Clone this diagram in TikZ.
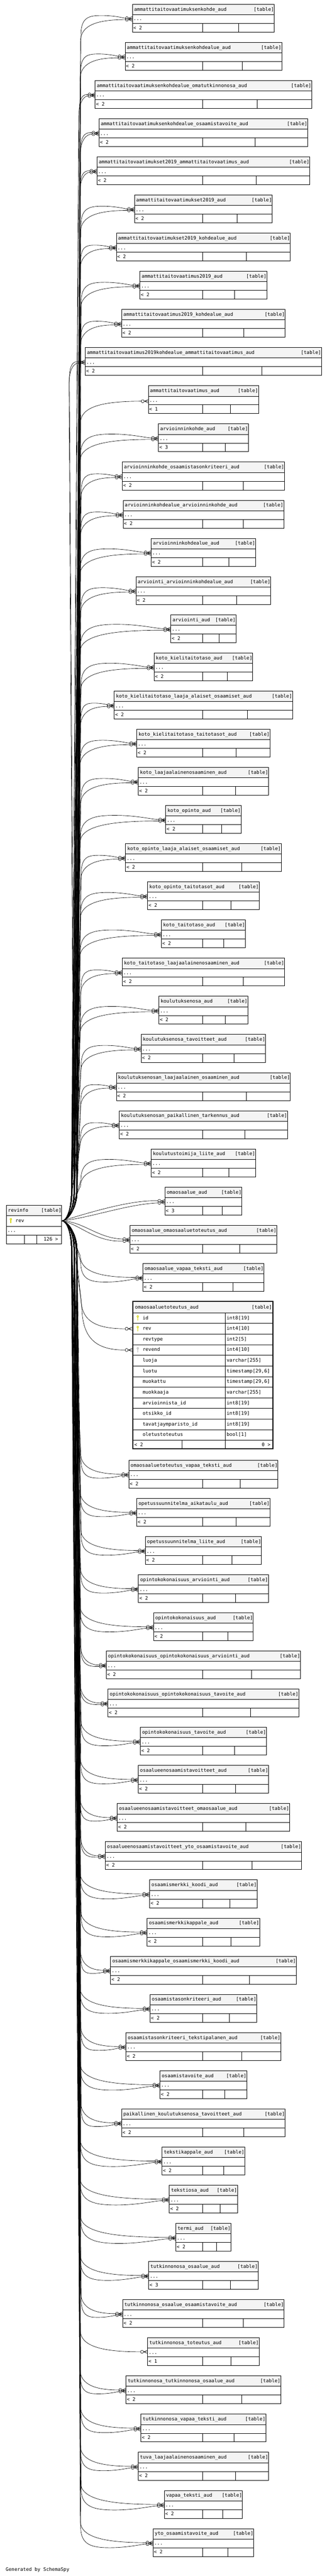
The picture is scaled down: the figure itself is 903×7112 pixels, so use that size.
\documentclass[tikz,border=0pt]{standalone}
\usepackage{fontspec}
\newfontfamily\tabfont{DejaVu Sans Mono}
\usetikzlibrary{arrows.meta}
\definecolor{hdr}{HTML}{F4F4F4}
\definecolor{keyy}{HTML}{D4D400}
\definecolor{keyg}{HTML}{B8B8B8}

\pgfdeclarearrow{
  name = CrowODot,
  setup code = {
    \pgfarrowssettipend{0pt}
    \pgfarrowssetlineend{-19.5pt}
    \pgfarrowssetvisualbackend{-20pt}
    \pgfarrowssetbackend{-20pt}
    \pgfarrowshullpoint{0pt}{5pt}
    \pgfarrowshullpoint{0pt}{-5pt}
    \pgfarrowshullpoint{-20pt}{5pt}
    \pgfarrowshullpoint{-20pt}{-5pt}
  },
  drawing code = {
    \pgfpathcircle{\pgfpoint{-15.3pt}{0pt}}{4.2pt}
    \pgfpathmoveto{\pgfpoint{-11.1pt}{0pt}}
    \pgfpathlineto{\pgfpoint{0pt}{0pt}}
    \pgfpathmoveto{\pgfpoint{-10.5pt}{0pt}}
    \pgfpathlineto{\pgfpoint{0pt}{4.6pt}}
    \pgfpathmoveto{\pgfpoint{-10.5pt}{0pt}}
    \pgfpathlineto{\pgfpoint{0pt}{-4.6pt}}
    \pgfusepathqstroke
  }
}

\tikzset{
  tabline/.style={draw=black, line width=1.1pt},
  edge/.style={draw=black, line width=0.9pt, -{CrowODot}},
  lbl/.style={inner sep=0pt, outer sep=0pt, font=\tabfont\fontsize{13.25}{15}\selectfont},
}

\newcommand{\schemakey}[3]{%
  \fill[#3] (#1,#2+3) circle (3);
  \fill[white] (#1,#2+3) circle (1.2);
  \fill[#3] (#1-0.9,#2+5.5) rectangle (#1+0.9,#2+14);
}

\def\tablist{%
1/ammattitaitovaatimuksenkohde\_aud/365.7/2/2,
2/ammattitaitovaatimuksenkohdealue\_aud/345.5/2/2,
3/ammattitaitovaatimuksenkohdealue\_omatutkinnonosa\_aud/262.6/2/2,
4/ammattitaitovaatimuksenkohdealue\_osaamistavoite\_aud/273.6/2/2,
5/ammattitaitovaatimukset2019\_ammattitaitovaatimus\_aud/267.8/2/2,
6/ammattitaitovaatimukset2019\_aud/371.5/2/2,
7/ammattitaitovaatimukset2019\_kohdealue\_aud/321.4/2/2,
8/ammattitaitovaatimus2019\_aud/386.4/2/2,
9/ammattitaitovaatimus2019\_kohdealue\_aud/335.8/2/2,
10/ammattitaitovaatimus2019kohdealue\_ammattitaitovaatimus\_aud/235.5/2/2,
11/ammattitaitovaatimus\_aud/409.5/1/1,
12/arvioinninkohde\_aud/437.7/2/3,
13/arvioinninkohde\_osaamistasonkriteeri\_aud/337.5/2/2,
14/arvioinninkohdealue\_arvioinninkohde\_aud/339.8/2/2,
15/arvioinninkohdealue\_aud/417.5/2/2,
16/arviointi\_arvioinninkohdealue\_aud/375.5/2/2,
17/arviointi\_aud/471.7/2/2,
18/koto\_kielitaitotaso\_aud/425.6/2/2,
19/koto\_kielitaitotaso\_laaja\_alaiset\_osaamiset\_aud/315.6/2/2,
20/koto\_kielitaitotaso\_taitotasot\_aud/377.8/2/2,
21/koto\_laajaalainenosaaminen\_aud/381.8/2/2,
22/koto\_opinto\_aud/457.8/2/2,
23/koto\_opinto\_laaja\_alaiset\_osaamiset\_aud/346.7/2/2,
24/koto\_opinto\_taitotasot\_aud/407.7/2/2,
25/koto\_taitotaso\_aud/445.7/2/2,
26/koto\_taitotaso\_laajaalainenosaaminen\_aud/337.5/2/2,
27/koulutuksenosa\_aud/438.8/2/2,
28/koulutuksenosa\_tavoitteet\_aud/389.9/2/2,
29/koulutuksenosan\_laajaalainen\_osaaminen\_aud/321.4/2/2,
30/koulutuksenosan\_paikallinen\_tarkennus\_aud/329.4/2/2,
31/koulutustoimija\_liite\_aud/417.5/2/2,
32/omaosaalue\_aud/455.5/2/3,
33/omaosaalue\_omaosaaluetoteutus\_aud/358.8/2/2,
34/omaosaalue\_vapaa\_teksti\_aud/394.5/2/2,
36/omaosaaluetoteutus\_vapaa\_teksti\_aud/355.9/2/2,
37/opetussuunnitelma\_aikataulu\_aud/377.8/2/2,
38/opetussuunnitelma\_liite\_aud/401.4/2/2,
39/opintokokonaisuus\_arviointi\_aud/382.4/2/2,
40/opintokokonaisuus\_aud/423.9/2/2,
41/opintokokonaisuus\_opintokokonaisuus\_arviointi\_aud/293.7/2/2,
42/opintokokonaisuus\_opintokokonaisuus\_tavoite\_aud/298.3/2/2,
43/opintokokonaisuus\_tavoite\_aud/387.6/2/2,
44/osaalueenosaamistavoitteet\_aud/381.8/2/2,
45/osaalueenosaamistavoitteet\_omaosaalue\_aud/323.7/2/2,
46/osaalueenosaamistavoitteet\_yto\_osaamistavoite\_aud/290.8/2/2,
47/osaamismerkki\_koodi\_aud/413.5/2/2,
48/osaamismerkkikappale\_aud/406.6/2/2,
49/osaamismerkkikappale\_osaamismerkki\_koodi\_aud/305.2/2/2,
50/osaamistasonkriteeri\_aud/414.6/2/2,
51/osaamistasonkriteeri\_tekstipalanen\_aud/347.8/2/2,
52/osaamistavoite\_aud/441.7/2/2,
53/paikallinen\_koulutuksenosa\_tavoitteet\_aud/335.8/2/2,
54/tekstikappale\_aud/447.5/2/2,
55/tekstiosa\_aud/467.6/2/2,
56/termi\_aud/485.5/2/2,
57/tutkinnonosa\_osaalue\_aud/410.6/2/3,
58/tutkinnonosa\_osaalue\_osaamistavoite\_aud/338.6/2/2,
59/tutkinnonosa\_toteutus\_aud/407.7/1/1,
60/tutkinnonosa\_tutkinnonosa\_osaalue\_aud/347.8/2/2,
61/tutkinnonosa\_vapaa\_teksti\_aud/389.3/2/2,
62/tuva\_laajaalainenosaaminen\_aud/381.8/2/2,
63/vapaa\_teksti\_aud/453.8/2/2,
64/yto\_osaamistavoite\_aud/422.7/2/2}

\begin{document}
\begin{tikzpicture}[x=1pt,y=-1pt]
\useasboundingbox (0,0) rectangle (903,7112);
\fill[white] (0,0) rectangle (903,7112);

\coordinate (rvport) at (170.5,3370.7);

% ---------- connectors ----------
\foreach \i/\nm/\lx/\ne/\fc in \tablist {
  \pgfmathsetmacro{\tT}{\i<35 ? 11.5+(\i-1)*105.35 : 4031.2+(\i-36)*105.35}
  \pgfmathsetmacro{\tpy}{\tT+40.75}
  \pgfmathsetmacro{\tsg}{\tpy>3370.7 ? 1 : -1}
  \pgfmathsetmacro{\tpa}{\tpy+(\tsg)*2}
  \pgfmathsetmacro{\tpb}{\tpy-(\tsg)*2}
  \coordinate (pa\i) at (\lx,\tpa);
  \coordinate (pb\i) at (\lx,\tpb);
  \ifnum\i=32
    \draw[edge] (rvport) .. controls (240,3350) and (360,3312) .. (pa\i);
    \draw[edge] (rvport) .. controls (250,3362) and (350,3325) .. (pb\i);
  \else\ifnum\i=33
    \draw[edge] (rvport) .. controls (230,3372) and (270,3419) .. (pb\i);
    \draw[edge] (rvport) .. controls (220,3379) and (262,3430) .. (pa\i);
  \else
    \pgfmathsetmacro{\D}{abs(\tpy-3370.7)}
    \pgfmathsetmacro{\xv}{197+mod(7*\i,21)}
    \pgfmathsetmacro{\xf}{min(220.5+mod(3*\i,5)*0.6,\lx-45)}
    \pgfmathsetmacro{\W}{\lx-\xf}
    \pgfmathsetmacro{\bb}{min(80,0.35*\D)}
    \pgfmathsetmacro{\ya}{3370.7+(\tsg)*\bb*0.4}
    \pgfmathsetmacro{\yb}{3370.7+(\tsg)*\bb}
    \pgfmathsetmacro{\Ln}{min(62,0.4*\D)}
    \pgfmathsetmacro{\Lf}{min(45,0.3*\D)}
    \pgfmathsetmacro{\yn}{\tpy-(\tsg)*\Ln}
    \pgfmathsetmacro{\ync}{\tpy-(\tsg)*0.25*\Ln}
    \pgfmathsetmacro{\xnc}{\xf+0.35*\W}
    \pgfmathsetmacro{\ov}{3+0.045*\W}
    \pgfmathsetmacro{\yf}{\tpy-(\tsg)*\Lf}
    \pgfmathsetmacro{\yfc}{\tpy+(\tsg)*0.1*\Lf}
    \pgfmathsetmacro{\yo}{\tpy+(\tsg)*\ov}
    \pgfmathsetmacro{\xff}{\xf+1.2}
    \pgfmathsetmacro{\xfa}{\xff+0.15*\W}
    \pgfmathsetmacro{\xfb}{\xff+0.4*\W}
    \pgfmathsetmacro{\xfc}{\xff+0.65*\W}
    \pgfmathsetmacro{\xfd}{\lx-0.15*\W}
    \pgfmathsetmacro{\xvf}{\xv+2}
    \draw[edge] (rvport) .. controls +(14,0) and (\xv,\ya) .. (\xv,\yb) -- (\xf,\yn) .. controls (\xf,\ync) and (\xnc,\tpb) .. (pb\i);
    \ifnum\ne=2
      \pgfmathtruncatemacro{\wide}{\W>80 ? 1 : 0}
      \ifnum\wide=1
        \draw[edge] (rvport) .. controls +(14,0) and (\xvf,\ya) .. (\xvf,\yb) -- (\xff,\yf) .. controls (\xff,\yfc) and (\xfa,\yo) .. (\xfb,\yo) .. controls (\xfc,\yo) and (\xfd,\tpa) .. (pa\i);
      \else
        \draw[edge] (rvport) .. controls +(14,0) and (\xvf,\ya) .. (\xvf,\yb) -- (\xff,\yf) .. controls (\xff,\yfc) and (\xfb,\tpa) .. (pa\i);
      \fi
    \fi
  \fi\fi
}

% connectors to the expanded table
\coordinate (bigrev) at (365.1,3668.5);
\coordinate (bigrevend) at (365.1,3727.2);
\draw[edge] (rvport) .. controls +(14,0) and (205,3402.7) .. (205,3450.7) -- (224,3590) .. controls (226,3650) and (270,3668.5) .. (bigrev);
\draw[edge] (rvport) .. controls +(14,0) and (209,3402.7) .. (209,3450.7) -- (226,3610) .. controls (228,3700) and (270,3727.2) .. (bigrevend);

% ---------- tables ----------
\foreach \i/\nm/\lx/\ne/\fc in \tablist {
  \pgfmathsetmacro{\tT}{\i<35 ? 11.5+(\i-1)*105.35 : 4031.2+(\i-36)*105.35}
  \pgfmathsetmacro{\trx}{1123.4-\lx}
  \pgfmathsetmacro{\tdw}{(559.2+\trx)/2}
  \pgfmathsetmacro{\ya}{\tT+28.7}
  \pgfmathsetmacro{\yb}{\tT+52.8}
  \pgfmathsetmacro{\yc}{\tT+76.9}
  \pgfmathsetmacro{\yt}{\tT+18.4}
  \pgfmathsetmacro{\yd}{\tT+45.2}
  \pgfmathsetmacro{\ye}{\tT+69.7}
  \pgfmathsetmacro{\xa}{\lx+5}
  \pgfmathsetmacro{\xb}{\trx-1}
  \pgfmathsetmacro{\xc}{\lx+3}
  \pgfmathsetmacro{\xd}{\lx+2.5}
  \filldraw[tabline, fill=hdr] (\lx,\tT) rectangle (\trx,\ya);
  \filldraw[tabline, fill=white] (\lx,\ya) rectangle (\trx,\yc);
  \draw[tabline] (\lx,\yb) -- (\trx,\yb) (559.2,\yb) -- (559.2,\yc) (\tdw,\yb) -- (\tdw,\yc);
  \node[lbl, anchor=base west] (name\i) at (\xa,\yt) {\nm};
  \node[lbl, anchor=base east] (kind\i) at (\xb,\yt) {[table]};
  \node[lbl, anchor=base west] (dots\i) at (\xc,\yd) {...};
  \node[lbl, anchor=base west] (foot\i) at (\xd,\ye) {< \fc};
}

% ---------- revinfo ----------
\filldraw[tabline, fill=hdr] (17.3,3327.6) rectangle (170.5,3356.2);
\filldraw[tabline, fill=white] (17.3,3356.2) rectangle (170.5,3433.5);
\draw[tabline] (17.3,3385.3) -- (170.5,3385.3) (17.3,3409.4) -- (170.5,3409.4)
  (66.8,3409.4) -- (66.8,3433.5) (101.4,3409.4) -- (101.4,3433.5);
\node[lbl, anchor=base west] (rvname) at (22.3,3346) {revinfo};
\node[lbl, anchor=base east] (rvkind) at (169.5,3346) {[table]};
\schemakey{30}{3363}{keyy}
\node[lbl, anchor=base west] (rvrev) at (43,3374.6) {rev};
\node[lbl, anchor=base west] (rvdots) at (20.3,3401.8) {...};
\node[lbl, anchor=base east] (rvfoot) at (160.5,3426.2) {126 >};

% ---------- omaosaaluetoteutus_aud (expanded) ----------
\fill[hdr] (366.6,3592.5) rectangle (753.3,3624.5);
\fill[white] (366.6,3624.5) rectangle (753.3,3999.8);
\foreach \r in {0,...,12} {
  \pgfmathsetmacro{\yy}{3624.5+\r*29.33}
  \draw[tabline] (366.6,\yy) -- (753.3,\yy);
}
\draw[tabline] (622.5,3624.5) -- (622.5,3976.5);
\draw[tabline] (502.7,3976.5) -- (502.7,3999.8) (622.5,3976.5) -- (622.5,3999.8);
\draw[line width=3pt] (366.6,3592.5) rectangle (753.3,3999.8);
\node[lbl, anchor=base west] (bigname) at (373,3613.4) {omaosaaluetoteutus\_aud};
\node[lbl, anchor=base east] (bigkind) at (751,3613.4) {[table]};
\foreach \r/\fn/\ty in {0/id/int8[19], 1/rev/int4[10], 2/revtype/int2[5], 3/revend/int4[10],
  4/luoja/varchar[255], 5/luotu/{timestamp[29,6]}, 6/muokattu/{timestamp[29,6]},
  7/muokkaaja/varchar[255], 8/arvioinnista\_id/int8[19], 9/otsikko\_id/int8[19],
  10/tavatjaymparisto\_id/int8[19], 11/oletustoteutus/bool[1]} {
  \pgfmathsetmacro{\yy}{3624.5+\r*29.33+18.4}
  \node[lbl, anchor=base west] (bigf\r) at (394,\yy) {\fn};
  \node[lbl, anchor=base west] (bigt\r) at (626,\yy) {\ty};
}
\schemakey{380.5}{3631.5}{keyy}
\schemakey{380.5}{3660.8}{keyy}
\schemakey{380.5}{3719.5}{keyg}
\node[lbl, anchor=base west] (bigfoot) at (371,3993.5) {< 2};
\node[lbl, anchor=base east] (bigfootr) at (747,3993.5) {0 >};

\node[lbl, anchor=base west] (gen) at (16,7098) {Generated by SchemaSpy};
\end{tikzpicture}
\end{document}
